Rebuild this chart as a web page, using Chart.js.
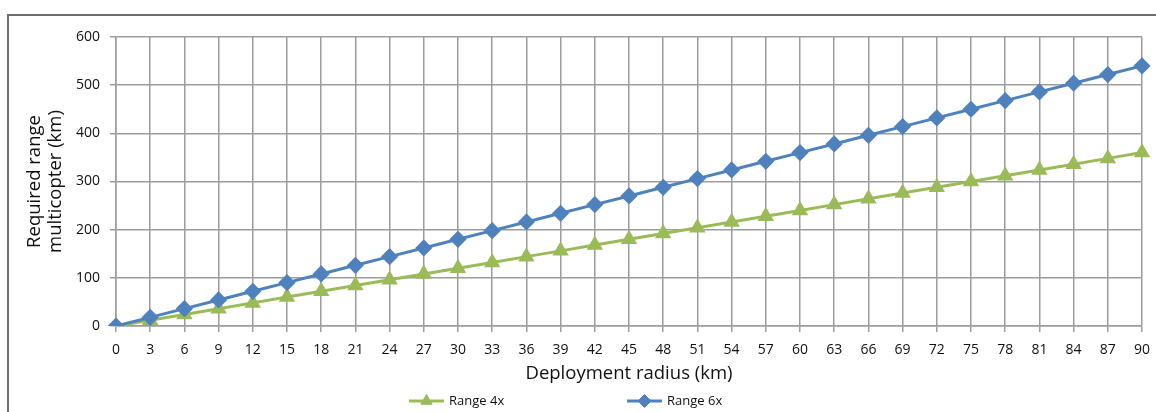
<!DOCTYPE html>
<html>
<head>
<meta charset="utf-8">
<script src="https://cdn.jsdelivr.net/npm/chart.js@4/dist/chart.umd.min.js"></script>
<style>
  html, body { margin: 0; padding: 0; background: #fff; overflow: hidden; }
  #wrap { position: relative; width: 1156px; height: 412px; }
  #frame {
    position: absolute; left: 7px; top: 14px; width: 1200px; height: 500px;
    border: 2px solid #6e6e6e; box-sizing: border-box;
  }
  #chart { position: absolute; left: 0; top: 0; }
</style>
</head>
<body>
<div id="wrap">
  <div id="frame"></div>
  <canvas id="chart" width="1156" height="412"></canvas>
</div>
<script>
const radiusLabels = ["0", "3", "6", "9", "12", "15", "18", "21", "24", "27", "30", "33", "36", "39", "42", "45",
  "48", "51", "54", "57", "60", "63", "66", "69", "72", "75", "78", "81", "84", "87", "90"];
const range4x = [0, 12, 24, 36, 48, 60, 72, 84, 96, 108, 120, 132, 144, 156, 168, 180,
  192, 204, 216, 228, 240, 252, 264, 276, 288, 300, 312, 324, 336, 348, 360];
const range6x = [0, 18, 36, 54, 72, 90, 108, 126, 144, 162, 180, 198, 216, 234, 252, 270,
  288, 306, 324, 342, 360, 378, 396, 414, 432, 450, 468, 486, 504, 522, 540];
const yTicks = [0, 100, 200, 300, 400, 500, 600];

const GREEN = "#9bbb59";
const BLUE = "#4f81bd";
const FONT = "'Open Sans', sans-serif";

// legend drawn by hand: short line with the marker on it, items spread wide like the original
const lineLegend = {
  id: "lineLegend",
  afterDraw(chart) {
    const ctx = chart.ctx;
    const xs = [409, 627];
    const y = 401;
    ctx.save();
    chart.data.datasets.forEach((ds, i) => {
      const x = xs[i];
      ctx.strokeStyle = ds.borderColor;
      ctx.lineWidth = 3;
      ctx.beginPath();
      ctx.moveTo(x, y);
      ctx.lineTo(x + 35, y);
      ctx.stroke();
      ctx.fillStyle = ds.pointBackgroundColor;
      ctx.strokeStyle = ds.pointBorderColor;
      ctx.lineWidth = 1;
      Chart.helpers.drawPoint(ctx, { pointStyle: ds.pointStyle, radius: 6.5, borderWidth: 1, rotation: 0 }, x + 17.5, y);
      ctx.fillStyle = "#111";
      ctx.font = "13px " + FONT;
      ctx.textBaseline = "middle";
      ctx.textAlign = "left";
      ctx.fillText(ds.label, x + 40, y);
    });
    ctx.restore();
  },
};

new Chart(document.getElementById("chart"), {
  type: "line",
  data: {
    labels: radiusLabels,
    datasets: [
      {
        label: "Range 4x",
        data: range4x,
        borderColor: GREEN,
        backgroundColor: GREEN,
        pointBackgroundColor: GREEN,
        pointBorderColor: GREEN,
        pointStyle: "triangle",
        pointRadius: 6.5,
        borderWidth: 3,
        order: 1,
      },
      {
        label: "Range 6x",
        data: range6x,
        borderColor: BLUE,
        backgroundColor: BLUE,
        pointBackgroundColor: BLUE,
        pointBorderColor: BLUE,
        pointStyle: "rectRot",
        pointRadius: 6.5,
        borderWidth: 3,
        order: 0,
      },
    ],
  },
  options: {
    responsive: false,
    animation: false,
    layout: { padding: { top: 37, right: 14, bottom: 26, left: 0 } },
    plugins: {
      legend: { display: false },
      tooltip: { enabled: false },
    },
    scales: {
      x: {
        offset: false,
        afterFit: (s) => {
          s.height = 60;
          s.paddingLeft = 0;
          s.paddingRight = 0;
        },
        grid: { color: "#9c9c9c", lineWidth: 1.5, tickLength: 6, drawTicks: true },
        border: { color: "#9c9c9c", width: 1.5 },
        ticks: { color: "#111", font: { family: FONT, size: 14 }, padding: 10, maxRotation: 0, autoSkip: false },
        title: {
          display: true,
          text: "Deployment radius (km)",
          color: "#111",
          font: { family: FONT, size: 18.5 },
          padding: { top: 0, bottom: 1 },
        },
      },
      y: {
        min: 0,
        max: 600,
        afterFit: (s) => { s.width = 116; },
        afterBuildTicks: (s) => { s.ticks = yTicks.map((v) => ({ value: v })); },
        grid: { color: "#9c9c9c", lineWidth: 1.5, tickLength: 6 },
        border: { color: "#9c9c9c", width: 1.5 },
        ticks: { color: "#111", font: { family: FONT, size: 14 }, padding: 10 },
        title: {
          display: true,
          text: ["Required range", "multicopter (km)"],
          color: "#111",
          font: { family: FONT, size: 18.5, lineHeight: 1.1 },
          padding: { top: 25, bottom: 0 },
        },
      },
    },
  },
  plugins: [lineLegend],
});
</script>
</body>
</html>
